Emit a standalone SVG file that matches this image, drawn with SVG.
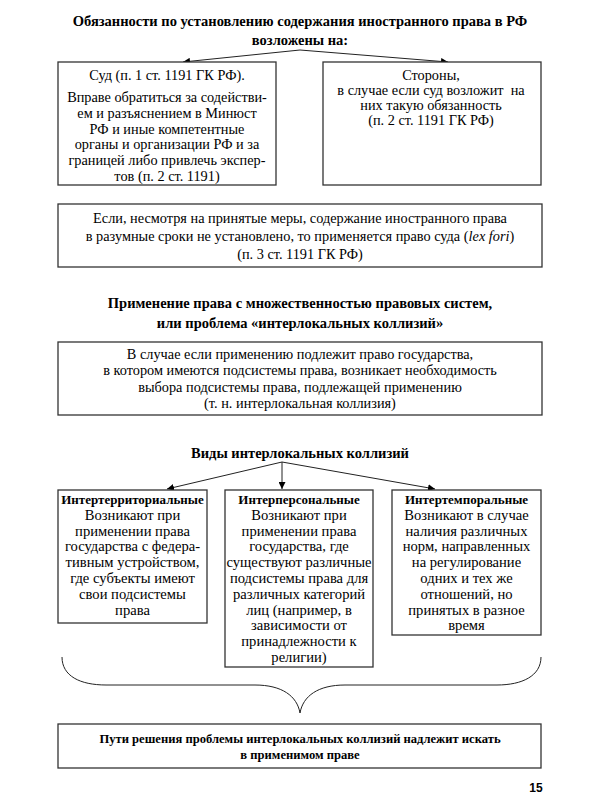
<svg xmlns="http://www.w3.org/2000/svg" width="600" height="800" viewBox="0 0 600 800">
<defs>
<marker id="ah" viewBox="0 0 10 10" refX="10" refY="5" markerWidth="7" markerHeight="7" orient="auto" markerUnits="userSpaceOnUse">
<path d="M0,0 L10,5 L0,10 Z" fill="#000"/>
</marker>
<style>
text{font-family:"Liberation Serif","Times New Roman",serif;font-size:14.3px;fill:#000;text-anchor:middle}
.h{font-weight:bold;font-size:14.5px}
.b{font-weight:bold;font-size:13px}
.s{font-weight:bold;font-size:12.6px}
.t{font-size:14.6px}
.box{fill:#fff;stroke:#333;stroke-width:1.3}
.ln{fill:none;stroke:#222;stroke-width:1}
</style>
</defs>
<rect width="600" height="800" fill="#fff"/>

<g id="title1">
<text class="h" x="300" y="26">Обязанности по установлению содержания иностранного права в РФ</text>
<text class="h" x="300" y="45">возложены на:</text>
</g>

<g id="connectors">
<line class="ln" x1="300" y1="50" x2="183" y2="62" marker-end="url(#ah)"/>
<line class="ln" x1="300" y1="50" x2="448" y2="62" marker-end="url(#ah)"/>
<line class="ln" x1="282" y1="462" x2="167" y2="489" marker-end="url(#ah)"/>
<line class="ln" x1="282" y1="462" x2="282" y2="489" marker-end="url(#ah)"/>
<line class="ln" x1="282" y1="462" x2="435" y2="489" marker-end="url(#ah)"/>
<path class="ln" d="M62,657 C62,676 80,685 106,685 L255,685 C282,685 297,696 300,713 C303,696 318,685 345,685 L497,685 C522,685 541,676 541,657"/>
</g>

<g id="court">
<rect class="box" x="58" y="62" width="218" height="123"/>
<text x="167" y="80">Суд (п. 1 ст. 1191 ГК РФ).</text>
<text x="167" y="102">Вправе обратиться за содействи-</text>
<text x="167" y="118">ем и разъяснением в Минюст</text>
<text x="167" y="134">РФ и иные компетентные</text>
<text x="167" y="149">органы и организации РФ и за</text>
<text x="167" y="165">границей либо привлечь экспер-</text>
<text x="167" y="181">тов (п. 2 ст. 1191)</text>
</g>

<g id="parties">
<rect class="box" x="323" y="62" width="218" height="123"/>
<text x="431" y="80">Стороны,</text>
<text x="431" y="95" style="white-space:pre">в случае если суд возложит  на</text>
<text x="431" y="110">них такую обязанность</text>
<text x="431" y="125">(п. 2 ст. 1191 ГК РФ)</text>
</g>

<g id="lexfori">
<rect class="box" x="58" y="204" width="484" height="63"/>
<text x="300" y="223">Если, несмотря на принятые меры, содержание иностранного права</text>
<text x="300" y="241">в разумные сроки не установлено, то применяется право суда (<tspan font-style="italic">lex fori</tspan>)</text>
<text x="300" y="259">(п. 3 ст. 1191 ГК РФ)</text>
</g>

<g id="title2">
<text class="h" x="300" y="308">Применение права с множественностью правовых систем,</text>
<text class="h" x="300" y="328">или проблема «интерлокальных коллизий»</text>
</g>

<g id="interlocal">
<rect class="box" x="58" y="342" width="484" height="73"/>
<text x="300" y="359">В случае если применению подлежит право государства,</text>
<text x="300" y="375">в котором имеются подсистемы права, возникает необходимость</text>
<text x="300" y="392">выбора подсистемы права, подлежащей применению</text>
<text x="300" y="408">(т. н. интерлокальная коллизия)</text>
</g>

<g id="title3">
<text class="h" x="300" y="458">Виды интерлокальных коллизий</text>
</g>

<g id="interterritorial">
<rect class="box" x="58" y="490" width="149" height="133"/>
<text class="b" x="132.5" y="504">Интертерриториальные</text>
<text class="t" x="132.5" y="520">Возникают при</text>
<text class="t" x="132.5" y="536">применении права</text>
<text class="t" x="132.5" y="551">государства с федера-</text>
<text class="t" x="132.5" y="567">тивным устройством,</text>
<text class="t" x="132.5" y="583">где субъекты имеют</text>
<text class="t" x="132.5" y="599">свои подсистемы</text>
<text class="t" x="132.5" y="615">права</text>
</g>

<g id="interpersonal">
<rect class="box" x="225" y="490" width="148" height="177"/>
<text class="b" x="299" y="504">Интерперсональные</text>
<text class="t" x="299" y="520">Возникают при</text>
<text class="t" x="299" y="536">применении права</text>
<text class="t" x="299" y="551">государства, где</text>
<text class="t" x="299" y="567">существуют различные</text>
<text class="t" x="299" y="583">подсистемы права для</text>
<text class="t" x="299" y="599">различных категорий</text>
<text class="t" x="299" y="615">лиц (например, в</text>
<text class="t" x="299" y="630">зависимости от</text>
<text class="t" x="299" y="646">принадлежности к</text>
<text class="t" x="299" y="662">религии)</text>
</g>

<g id="intertemporal">
<rect class="box" x="392" y="490" width="149" height="145"/>
<text class="b" x="466.5" y="504">Интертемпоральные</text>
<text class="t" x="466.5" y="520">Возникают в случае</text>
<text class="t" x="466.5" y="536">наличия различных</text>
<text class="t" x="466.5" y="551">норм, направленных</text>
<text class="t" x="466.5" y="567">на регулирование</text>
<text class="t" x="466.5" y="583">одних и тех же</text>
<text class="t" x="466.5" y="599">отношений, но</text>
<text class="t" x="466.5" y="615">принятых в разное</text>
<text class="t" x="466.5" y="630">время</text>
</g>

<g id="solution">
<rect class="box" x="58" y="724" width="483" height="44"/>
<text class="s" x="300" y="743">Пути решения проблемы интерлокальных коллизий надлежит искать</text>
<text class="s" x="300" y="759">в применимом праве</text>
</g>

<text x="536" y="792" style="font-family:'Liberation Sans',Arial,sans-serif;font-weight:bold;font-size:12px">15</text>
</svg>
